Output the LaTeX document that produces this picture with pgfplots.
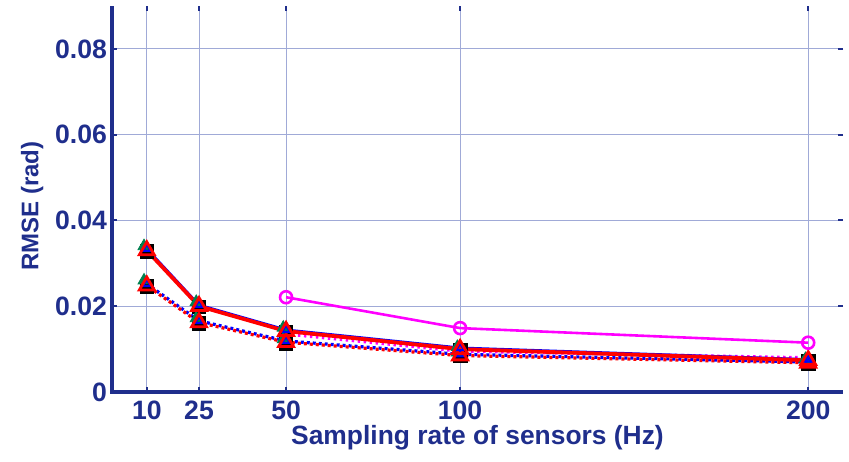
\documentclass[border=0pt]{standalone}
\usepackage{pgfplots}
\pgfplotsset{compat=1.18}
\usepackage{fontspec}
\setmainfont{Liberation Sans}
\definecolor{dkb}{RGB}{31,46,140}
\definecolor{gridc}{RGB}{160,170,215}
\definecolor{dgreen}{RGB}{0,128,80}
\definecolor{mag}{RGB}{255,0,255}
\begin{document}
\begin{tikzpicture}
\begin{axis}[
  name=ax,
  scale only axis,
  width=365.5pt, height=193pt,
  xmin=0, xmax=210, ymin=0, ymax=0.09,
  xtick={10,25,50,100,200},
  ytick={0,0.02,0.04,0.06,0.08},
  yticklabels={0,0.02,0.04,0.06,0.08},
  scaled y ticks=false,
  grid=major,
  major grid style={gridc, line width=0.5pt},
  tick align=inside,
  major tick length=2.5pt,
  tick style={dkb, line width=1pt},
  axis line style={draw=none},
  font=\fontsize{13.3}{15}\selectfont\bfseries,
  tick label style={dkb, font=\fontsize{13.3}{15}\selectfont\bfseries},
  xticklabel style={yshift=-1pt},
  yticklabel style={xshift=1pt},
  /pgf/number format/assume math mode=true,
  xlabel={Sampling rate of sensors (Hz)},
  ylabel={RMSE (rad)},
  xlabel style={dkb, font=\fontsize{13.2}{15}\selectfont\bfseries, yshift=4pt},
  ylabel style={dkb, font=\fontsize{12}{14}\selectfont\bfseries, xshift=-3.5pt, yshift=-1pt},
  clip=false,
]
% black squares
\addplot[draw=none, mark=square*, mark size=3.4pt, mark options={fill=black, draw=black}] coordinates {(10,0.0328)(25,0.0198)(50,0.0140)(100,0.0097)(200,0.0071)};
\addplot[draw=none, mark=square*, mark size=3.4pt, mark options={fill=black, draw=black}] coordinates {(10,0.0246)(25,0.0160)(50,0.0114)(100,0.0086)(200,0.0067)};
% green triangles
\addplot[draw=none, mark=triangle*, mark size=3.5pt, mark options={fill=dgreen, draw=dgreen}] coordinates {(9.2,0.0340)(24.2,0.0210)(49.2,0.0150)(99.2,0.0105)(199.2,0.0077)};
\addplot[draw=none, mark=triangle*, mark size=3.5pt, mark options={fill=dgreen, draw=dgreen}] coordinates {(9.2,0.0260)(24.2,0.0172)(49.2,0.0123)(99.2,0.0092)(199.2,0.0071)};
% magenta dotted
\addplot[mag, line width=1.5pt, dash pattern=on 1.2pt off 1.8pt] coordinates {(50,0.0135)(100,0.0095)(200,0.0080)};
% dotted blue & red
\addplot[blue, line width=1.6pt, dash pattern=on 1.5pt off 1.5pt, mark=triangle, mark size=2.2pt, mark options={solid, line width=1pt}] coordinates {(10,0.0252)(25,0.0166)(50,0.0119)(100,0.0088)(200,0.0070)};
\addplot[red, line width=1.6pt, dash pattern=on 1.5pt off 1.5pt, dash phase=1.5pt, mark=triangle, mark size=4.3pt, mark options={solid, line width=1.4pt}] coordinates {(10,0.0248)(25,0.0162)(50,0.0116)(100,0.0085)(200,0.0068)};
% solid blue & red
\addplot[blue, line width=1.3pt, mark=triangle, mark size=2.2pt, mark options={line width=1pt}] coordinates {(10,0.0334)(25,0.0203)(50,0.0145)(100,0.0103)(200,0.0076)};
\addplot[red, line width=1.9pt, mark=triangle, mark size=4.3pt, mark options={line width=1.4pt}] coordinates {(10,0.0330)(25,0.0200)(50,0.0142)(100,0.0100)(200,0.0074)};
% magenta solid circles
\addplot[mag, line width=1.3pt, mark=o, mark size=3pt, mark options={line width=1.3pt}] coordinates {(50,0.0221)(100,0.0149)(200,0.0115)};
\end{axis}
\draw[dkb, line width=1.6pt] (ax.north west) -- (ax.south west) -- (ax.south east);
\path (ax.south west) ++(-56pt,-34.5pt) rectangle ++(424.5pt,230.5pt);
\end{tikzpicture}
\end{document}
